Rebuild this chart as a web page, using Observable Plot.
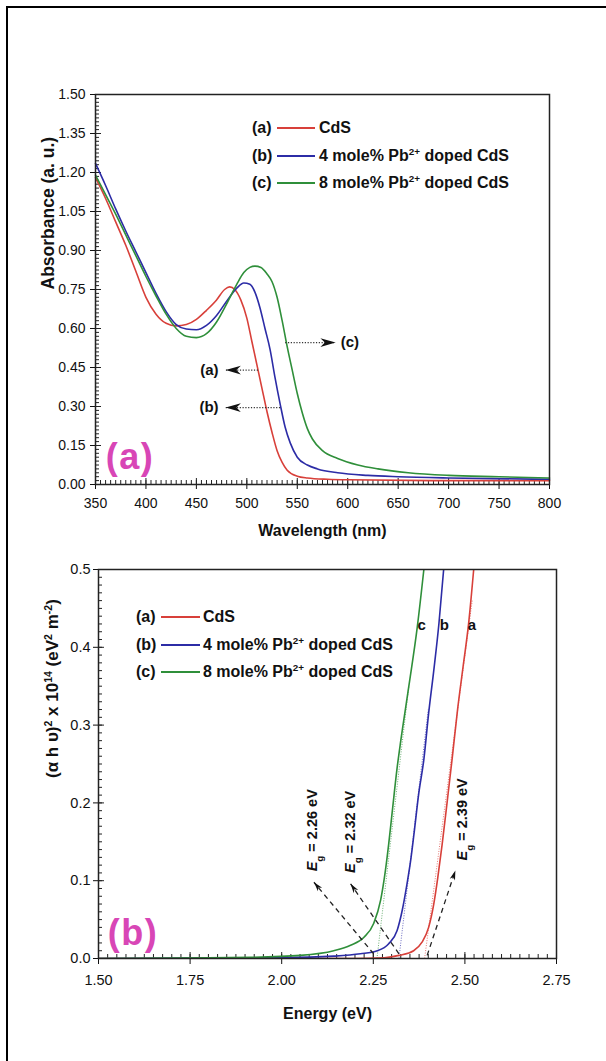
<!DOCTYPE html>
<html>
<head>
<meta charset="utf-8">
<script src="https://cdn.jsdelivr.net/npm/d3@7"></script>
<script src="https://cdn.jsdelivr.net/npm/@observablehq/plot@0.6"></script>
<style>
html,body{margin:0;padding:0;}
body{width:606px;height:1061px;overflow:hidden;background:#fff;position:relative;font-family:"Liberation Sans",Arial,Helvetica,sans-serif;color:#111;}
#outer{position:absolute;left:6px;top:6px;width:640px;height:1100px;border-left:2.5px solid #000;border-top:2.5px solid #000;}
.panel{position:absolute;left:0;}
.lg{position:absolute;font-weight:bold;font-size:16px;line-height:18px;white-space:nowrap;color:#111;}
.lg sup{font-size:62%;line-height:0;vertical-align:0.6em;}
.sw{position:absolute;height:2px;}
.tag{position:absolute;font-weight:bold;font-size:36px;letter-spacing:1.5px;color:#d846b6;line-height:1;transform:translate(-50%,-50%);white-space:nowrap;}
</style>
</head>
<body>
<div id="outer"></div>
<div id="pa" class="panel" style="top:0"></div>
<div id="pb" class="panel" style="top:540px"></div>
<script>
const FONT = '"Liberation Sans", Arial, Helvetica, sans-serif';

// ---- series meta ----
const seriesKeys = ["(a)", "(b)", "(c)"];
const seriesNames = ["CdS", "4 mole% Pb^{2+} doped CdS", "8 mole% Pb^{2+} doped CdS"];
const seriesColors = ["#d8403a", "#2c2ca6", "#2f8f3a"];
const curveTags = ["a", "b", "c"];

// ---- panel (a): absorbance vs wavelength ----
const wlCdS = [350,360,370,380,390,400,410,420,430,440,450,460,470,478,483,488,494,500,505,510,515,520,525,530,535,540,550,560,580,600,700,800];
const absCdS = [1.18,1.10,1.01,0.92,0.82,0.72,0.655,0.62,0.61,0.615,0.635,0.67,0.71,0.75,0.76,0.75,0.71,0.64,0.55,0.46,0.37,0.28,0.20,0.13,0.085,0.055,0.032,0.025,0.02,0.018,0.015,0.015];

const wl4 = [350,360,370,380,390,400,410,420,430,440,450,460,470,480,490,497,503,508,513,518,523,528,533,538,543,550,560,570,590,620,650,700,800];
const abs4 = [1.235,1.15,1.06,0.975,0.895,0.815,0.735,0.665,0.615,0.598,0.595,0.612,0.65,0.705,0.755,0.775,0.77,0.74,0.68,0.60,0.52,0.41,0.31,0.22,0.16,0.105,0.075,0.06,0.045,0.035,0.03,0.025,0.02];

const wl8 = [350,360,370,380,390,400,410,420,430,440,450,460,470,480,490,497,503,508,514,520,525,530,535,540,545,550,555,560,565,575,590,610,630,660,700,750,800];
const abs8 = [1.19,1.115,1.04,0.96,0.88,0.80,0.725,0.655,0.60,0.57,0.565,0.58,0.625,0.695,0.77,0.815,0.835,0.84,0.835,0.81,0.78,0.72,0.63,0.53,0.44,0.35,0.275,0.215,0.175,0.13,0.10,0.075,0.06,0.045,0.035,0.03,0.025];

const wlTicks = [350,400,450,500,550,600,650,700,750,800];
const absTicks = [0,0.15,0.30,0.45,0.60,0.75,0.90,1.05,1.20,1.35,1.50];

// arrows pointing to curves in panel (a)
const annoLeft = [
  {label:"(a)", tail:511, tip:479, y:0.44, text:472},
  {label:"(b)", tail:533, tip:479, y:0.296, text:472}
];
const annoRight = [
  {label:"(c)", tail:538, tip:588, y:0.546, text:593}
];

// ---- panel (b): Tauc plot ----
const eCdS = [1.50,2.00,2.20,2.28,2.32,2.36,2.383,2.401,2.415,2.426,2.438,2.452,2.465,2.48,2.495,2.51,2.524];
const tCdS = [0,0,0,0.001,0.004,0.01,0.021,0.04,0.07,0.104,0.147,0.203,0.256,0.32,0.375,0.43,0.5];
const e4 = [1.50,2.00,2.142,2.215,2.261,2.292,2.315,2.329,2.342,2.352,2.361,2.374,2.388,2.401,2.415,2.429,2.442];
const t4 = [0,0.001,0.003,0.006,0.010,0.019,0.036,0.062,0.096,0.126,0.16,0.212,0.256,0.315,0.37,0.43,0.5];
const e8 = [1.50,1.80,1.915,2.051,2.142,2.188,2.224,2.251,2.270,2.283,2.292,2.302,2.315,2.325,2.347,2.370,2.388];
const t8 = [0,0.001,0.0015,0.004,0.010,0.017,0.027,0.045,0.075,0.113,0.147,0.19,0.245,0.28,0.35,0.426,0.5];

const eTicks = [1.50,1.75,2.00,2.25,2.50,2.75];
const taucTicks = [0,0.1,0.2,0.3,0.4,0.5];

// band gaps and their tangent lines (a, b, c)
const bandGaps = [2.39, 2.32, 2.26];
const tangentEndX = [2.52, 2.40, 2.347];
const tangentEndY = [0.46, 0.32, 0.35];
const curveTagX = [2.519, 2.444, 2.382];
const curveTagY = 0.428;

// dashed Eg arrows and labels
const egArrows = [
  {x1:2.251, y1:0.006, x2:2.088, y2:0.098},
  {x1:2.320, y1:0.006, x2:2.188, y2:0.096},
  {x1:2.397, y1:0.004, x2:2.474, y2:0.113}
];
const egLabels = [
  {t:"*{E}_{g} = 2.26 eV", x:2.085, y:0.112},
  {t:"*{E}_{g} = 2.32 eV", x:2.188, y:0.110},
  {t:"*{E}_{g} = 2.39 eV", x:2.494, y:0.126}
];

// ---- layout ----
const A = {w:606, h:560, mt:94, mb:76, ml:95, mr:57};
const B = {w:606, h:521, mt:29, mb:103, ml:98, mr:50};
const fwA = A.w - A.ml - A.mr, fhA = A.h - A.mt - A.mb;
const fwB = B.w - B.ml - B.mr, fhB = B.h - B.mt - B.mb;

const toRows = (xs, ys) => xs.map((x, i) => ({x, y: ys[i]}));

const stealth = {
  draw(ctx, size) {
    const s = Math.sqrt(size / Math.PI);
    ctx.moveTo(0, 0);
    ctx.lineTo(s * 0.55, s * 1.9);
    ctx.lineTo(0, s * 1.35);
    ctx.lineTo(-s * 0.55, s * 1.9);
    ctx.closePath();
  }
};

function richSVG(str) {
  return str.replace(/&/g, "&amp;").replace(/</g, "&lt;")
    .replace(/\^\{([^}]*)\}/g, '<tspan baseline-shift="super" font-size="62%">$1</tspan>')
    .replace(/_\{([^}]*)\}/g, '<tspan baseline-shift="sub" font-size="68%">$1</tspan>')
    .replace(/\*\{([^}]*)\}/g, '<tspan font-style="italic">$1</tspan>');
}
function richify(svg) {
  svg.querySelectorAll("text").forEach(t => {
    if (/[\^_*]\{/.test(t.textContent) && t.children.length === 0) t.innerHTML = richSVG(t.textContent);
  });
}
const richHTML = s => s.replace(/\^\{([^}]*)\}/g, "<sup>$1</sup>");

// ---- panel (a) ----
const wlMinor = d3.range(350, 800.1, 5);
const absMinor = d3.range(0, 1.5001, 0.015);

const plotA = Plot.plot({
  width: A.w, height: A.h,
  marginTop: A.mt, marginBottom: A.mb, marginLeft: A.ml, marginRight: A.mr,
  style: {background: "none", fontFamily: FONT, fontSize: "14px", color: "#111", overflow: "visible"},
  x: {domain: [350, 800], ticks: wlTicks, tickSize: 5, tickPadding: 9, tickFormat: d3.format("d"), label: null},
  y: {domain: [0, 1.5], ticks: absTicks, tickSize: 5, tickPadding: 5, tickFormat: d3.format(".2f"), label: null},
  marks: [
    Plot.tickX(wlMinor, {x: d => d, insetTop: fhA - 4, stroke: "#222"}),
    Plot.tickX(wlTicks, {x: d => d, insetTop: fhA - 6, stroke: "#222"}),
    Plot.tickY(absMinor, {y: d => d, insetRight: fwA - 4, stroke: "#222"}),
    Plot.tickY(absTicks, {y: d => d, insetRight: fwA - 6, stroke: "#222"}),
    Plot.line(toRows(wlCdS, absCdS), {x: "x", y: "y", stroke: seriesColors[0], strokeWidth: 1.6, curve: "monotone-x"}),
    Plot.line(toRows(wl4, abs4), {x: "x", y: "y", stroke: seriesColors[1], strokeWidth: 1.6, curve: "monotone-x"}),
    Plot.line(toRows(wl8, abs8), {x: "x", y: "y", stroke: seriesColors[2], strokeWidth: 1.6, curve: "monotone-x"}),
    Plot.link(annoLeft.concat(annoRight), {x1: "tail", x2: "tip", y1: "y", y2: "y", stroke: "#333", strokeWidth: 1.2, strokeDasharray: "1.2,1.6"}),
    Plot.dot(annoLeft, {x: "tip", y: "y", symbol: stealth, r: 8, fill: "#111", rotate: -90}),
    Plot.dot(annoRight, {x: "tip", y: "y", symbol: stealth, r: 8, fill: "#111", rotate: 90}),
    Plot.text(annoLeft, {x: "text", y: "y", text: "label", textAnchor: "end", fontSize: 15, fontWeight: "bold"}),
    Plot.text(annoRight, {x: "text", y: "y", text: "label", textAnchor: "start", fontSize: 15, fontWeight: "bold"}),
    Plot.text(["Wavelength (nm)"], {text: d => d, frameAnchor: "bottom", dy: 51, fontSize: 16, fontWeight: "bold"}),
    Plot.text(["Absorbance (a. u.)"], {text: d => d, frameAnchor: "left", dx: -47, rotate: -90, fontSize: 17.5, fontWeight: "bold"}),
    Plot.frame({stroke: "#222", strokeWidth: 1.5})
  ]
});
richify(plotA);
document.getElementById("pa").appendChild(plotA);

// ---- panel (b) ----
const eMinor = d3.range(1.5, 2.7501, 0.025);
const taucMinor = d3.range(0, 0.5001, 0.01);
const kx = fwB / 1.25, ky = fhB / 0.5;
const egArrowRows = egArrows.map(d => ({...d, rot: Math.atan2((d.x2 - d.x1) * kx, (d.y2 - d.y1) * ky) * 180 / Math.PI}));
const tangentRows = bandGaps.map((g, i) => ({x1: g, y1: 0, x2: tangentEndX[i], y2: tangentEndY[i], c: seriesColors[i]}));
const tagRows = curveTags.map((t, i) => ({t, x: curveTagX[i], y: curveTagY}));

const plotB = Plot.plot({
  width: B.w, height: B.h,
  marginTop: B.mt, marginBottom: B.mb, marginLeft: B.ml, marginRight: B.mr,
  style: {background: "none", fontFamily: FONT, fontSize: "14.5px", color: "#111", overflow: "visible"},
  x: {domain: [1.5, 2.75], ticks: eTicks, tickSize: 6, tickPadding: 10, tickFormat: d3.format(".2f"), label: null},
  y: {domain: [0, 0.5], ticks: taucTicks, tickSize: 5, tickPadding: 3, tickFormat: d3.format(".1f"), label: null},
  marks: [
    Plot.tickX(eMinor, {x: d => d, insetTop: fhB - 4, stroke: "#222"}),
    Plot.tickX(eTicks, {x: d => d, insetTop: fhB - 6, stroke: "#222"}),
    Plot.tickY(taucMinor, {y: d => d, insetRight: fwB - 4, stroke: "#222"}),
    Plot.tickY(taucTicks, {y: d => d, insetRight: fwB - 6, stroke: "#222"}),
    Plot.link(tangentRows, {x1: "x1", y1: "y1", x2: "x2", y2: "y2", stroke: "c", strokeOpacity: 0.7, strokeWidth: 1, strokeDasharray: "1,1.5"}),
    Plot.line(toRows(eCdS, tCdS), {x: "x", y: "y", stroke: seriesColors[0], strokeWidth: 1.6, curve: "monotone-x", clip: true}),
    Plot.line(toRows(e4, t4), {x: "x", y: "y", stroke: seriesColors[1], strokeWidth: 1.6, curve: "monotone-x", clip: true}),
    Plot.line(toRows(e8, t8), {x: "x", y: "y", stroke: seriesColors[2], strokeWidth: 1.6, curve: "monotone-x", clip: true}),
    Plot.link(egArrowRows, {x1: "x1", y1: "y1", x2: "x2", y2: "y2", stroke: "#222", strokeWidth: 1.3, strokeDasharray: "5,4"}),
    Plot.dot(egArrowRows, {x: "x2", y: "y2", symbol: stealth, r: 5, fill: "#111", rotate: "rot"}),
    Plot.text(egLabels, {x: "x", y: "y", text: "t", rotate: -90, textAnchor: "start", fontSize: 14.5, fontWeight: "bold"}),
    Plot.text(tagRows, {x: "x", y: "y", text: "t", fontSize: 15, fontWeight: "bold"}),
    Plot.text(["Energy (eV)"], {text: d => d, frameAnchor: "bottom", dy: 60, fontSize: 16, fontWeight: "bold"}),
    Plot.text(["(\u03b1 h \u03c5)^{2} x 10^{14} (eV^{2} m^{-2})"], {text: d => d, frameAnchor: "left", dx: -46, dy: 14, rotate: -90, fontSize: 17, fontWeight: "bold"}),
    Plot.frame({stroke: "#222", strokeWidth: 1.5})
  ]
});
richify(plotB);
document.getElementById("pb").appendChild(plotB);

// ---- legends (HTML overlays inside the frames) ----
function legend(rows, keyLeft, lineLeft, lineRight, labelLeft) {
  rows.forEach((cy, i) => {
    const k = document.createElement("div");
    k.className = "lg"; k.style.left = keyLeft + "px"; k.style.top = (cy - 9) + "px";
    k.textContent = seriesKeys[i];
    document.body.appendChild(k);
    const s = document.createElement("div");
    s.className = "sw"; s.style.left = lineLeft + "px"; s.style.width = (lineRight - lineLeft) + "px";
    s.style.top = (cy - 1) + "px"; s.style.background = seriesColors[i];
    document.body.appendChild(s);
    const t = document.createElement("div");
    t.className = "lg"; t.style.left = labelLeft + "px"; t.style.top = (cy - 9) + "px";
    t.innerHTML = richHTML(seriesNames[i]);
    document.body.appendChild(t);
  });
}
legend([128, 156, 183], 252, 277, 315, 319);
legend([617, 645, 672], 136, 161, 200, 203);

// ---- panel tags ----
[["(a)", 130, 457], ["(b)", 133, 933]].forEach(([t, x, y]) => {
  const d = document.createElement("div");
  d.className = "tag"; d.style.left = x + "px"; d.style.top = y + "px"; d.textContent = t;
  document.body.appendChild(d);
});
</script>
</body>
</html>
